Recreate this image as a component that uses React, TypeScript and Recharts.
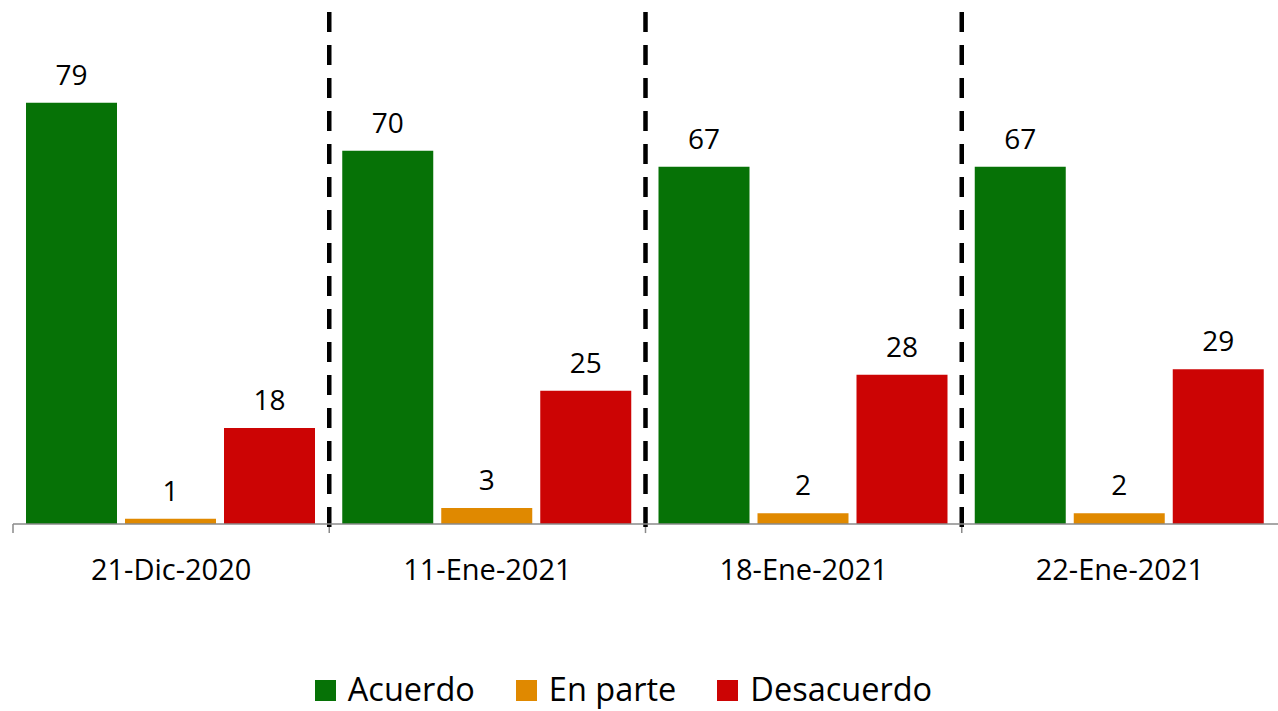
import React from 'react';
import { BarChart, Bar, XAxis, YAxis, LabelList, ReferenceLine, Legend } from 'recharts';

const categories = ['21-Dic-2020', '11-Ene-2021', '18-Ene-2021', '22-Ene-2021'];
const acuerdo = [79, 70, 67, 67];
const enParte = [1, 3, 2, 2];
const desacuerdo = [18, 25, 28, 29];
const separatorCategories = ['11-Ene-2021', '18-Ene-2021', '22-Ene-2021'];

const seriesDefs = [
  { key: 'acuerdo', name: 'Acuerdo', color: '#067206' },
  { key: 'enParte', name: 'En parte', color: '#e08900' },
  { key: 'desacuerdo', name: 'Desacuerdo', color: '#cc0404' },
];

const data = categories.map((c, i) => ({
  name: c,
  acuerdo: acuerdo[i],
  enParte: enParte[i],
  desacuerdo: desacuerdo[i],
}));

const FONT = '"Open Sans", sans-serif';

const CategoryTick = (props: any) => {
  const { x, y, payload } = props;
  return (
    <text x={x} y={y} dy={56} textAnchor="middle" fontFamily={FONT} fontSize={29} fill="#000">
      {payload.value}
    </text>
  );
};

const renderLegend = () => (
  <div
    style={{
      display: 'flex',
      justifyContent: 'center',
      alignItems: 'center',
      height: 40,
      paddingRight: 31,
      fontFamily: FONT,
      fontSize: 32.5,
      lineHeight: 1,
      color: '#000',
    }}
  >
    {seriesDefs.map((s, i) => (
      <div key={s.key} style={{ display: 'flex', alignItems: 'center', marginRight: i < seriesDefs.length - 1 ? 41 : 0 }}>
        <span style={{ display: 'inline-block', width: 21, height: 21, background: s.color, marginRight: 12, marginTop: 3 }} />
        <span style={{ lineHeight: 1 }}>{s.name}</span>
      </div>
    ))}
  </div>
);

export default function App() {
  return (
    <div style={{ position: 'absolute', left: 0, top: 0, width: 1278, height: 711, background: '#fff' }}>
      <BarChart
        width={1278}
        height={711}
        data={data}
        margin={{ top: 12, left: 13, right: 0, bottom: 87 }}
        barCategoryGap={13}
        barGap={8}
      >
        <XAxis
          dataKey="name"
          height={60}
          axisLine={{ stroke: '#8a8a8a', strokeWidth: 1.5 }}
          tickLine={false}
          tickSize={0}
          tickMargin={0}
          tick={CategoryTick}
          interval={0}
        />
        <YAxis hide domain={[0, 96]} />
        {seriesDefs.map((s) => (
          <Bar key={s.key} dataKey={s.key} name={s.name} fill={s.color} isAnimationActive={false}>
            <LabelList dataKey={s.key} position="top" offset={18} fill="#000" fontSize={28} fontFamily={FONT} />
          </Bar>
        ))}
        {categories.map((c) => (
          <ReferenceLine
            key={'t' + c}
            segment={[{ x: c, y: 0 }, { x: c, y: -1.7 }]}
            position="start"
            ifOverflow="visible"
            stroke="#8a8a8a"
            strokeWidth={1.5}
          />
        ))}
        {separatorCategories.map((c) => (
          <ReferenceLine
            key={c}
            segment={[{ x: c, y: 96 }, { x: c, y: -2 }]}
            position="start"
            ifOverflow="visible"
            stroke="#000"
            strokeWidth={4.5}
            strokeDasharray="20 13"
          />
        ))}
        <Legend
          verticalAlign="bottom"
          content={renderLegend}
          wrapperStyle={{ position: 'absolute', top: 669, left: 0, width: 1278, height: 40 }}
        />
      </BarChart>
    </div>
  );
}
